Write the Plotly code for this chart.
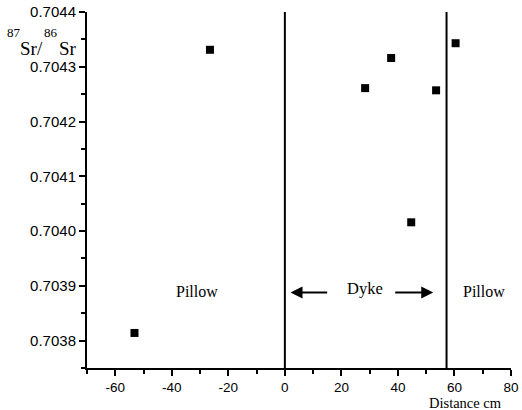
import plotly.graph_objects as go

# Data
distance_cm = [-53.2, -26.5, 28.4, 37.6, 53.5, 60.4, 44.7]
sr_ratio = [0.703814, 0.704331, 0.704261, 0.704316, 0.704257, 0.704343, 0.704016]
contacts_cm = [0, 57.2]
x_ticks = [-60, -40, -20, 0, 20, 40, 60, 80]
y_ticks = [0.7038, 0.7039, 0.7040, 0.7041, 0.7042, 0.7043, 0.7044]

Y_MIN, Y_MAX = 0.70375, 0.70440
X_MIN, X_MAX = -70, 80

L, R, T, B = 87, 11, 12, 42
W, H = 522, 410
PW, PH = W - L - R, H - T - B


def px(xp):
    return (xp - L) / PW


def py(yp):
    return (H - B - yp) / PH


fig = go.Figure()

for c in contacts_cm:
    fig.add_trace(go.Scatter(x=[c, c], y=[Y_MIN, Y_MAX + 0.00001], mode="lines",
                             line=dict(color="black", width=2), showlegend=False,
                             hoverinfo="skip", cliponaxis=False))

fig.add_trace(go.Scatter(x=distance_cm, y=sr_ratio, mode="markers",
                         marker=dict(symbol="square", size=8, color="black"),
                         showlegend=False))

serif = "Liberation Serif, Times New Roman, serif"
sans = "Liberation Sans, Arial, sans-serif"

fig.update_layout(
    width=W, height=H,
    margin=dict(l=L, r=R, t=T, b=B),
    paper_bgcolor="white", plot_bgcolor="white",
    font=dict(family=sans, size=15, color="black"),
    xaxis=dict(range=[X_MIN, X_MAX], tickvals=x_ticks, ticktext=[str(v) for v in x_ticks],
               automargin=False,
               showgrid=False, zeroline=False, showline=True, linecolor="black", linewidth=2,
               ticks="outside", ticklen=6, tickwidth=2, tickcolor="black",
               minor=dict(dtick=10, ticks="outside", ticklen=4, tickwidth=2, tickcolor="black"),
               tickfont=dict(family=sans, size=13.5)),
    yaxis=dict(range=[Y_MIN, Y_MAX], tickvals=y_ticks, ticktext=["%.4f" % v for v in y_ticks],
               automargin=False,
               showgrid=False, zeroline=False, showline=True, linecolor="black", linewidth=2,
               ticks="outside", ticklen=6, tickwidth=2, tickcolor="black",
               minor=dict(dtick=0.00005, ticks="outside", ticklen=4, tickwidth=2, tickcolor="black"),
               tickfont=dict(family=sans, size=15)),
)

label_y = 0.703888
fig.add_annotation(x=-31, y=0.70389, text="Pillow", showarrow=False,
                   font=dict(family=serif, size=16))
fig.add_annotation(x=70.5, y=0.70389, text="Pillow", showarrow=False,
                   font=dict(family=serif, size=16))
fig.add_annotation(x=28.5, y=0.703895, text="Dyke", showarrow=False,
                   font=dict(family=serif, size=16.5))
# arrows
fig.add_annotation(x=2, y=label_y, ax=15.5, ay=label_y, axref="x", ayref="y",
                   text="", showarrow=True, arrowhead=2, arrowsize=1.2, arrowwidth=2,
                   arrowcolor="black")
fig.add_annotation(x=52.5, y=label_y, ax=38.5, ay=label_y, axref="x", ayref="y",
                   text="", showarrow=True, arrowhead=2, arrowsize=1.2, arrowwidth=2,
                   arrowcolor="black")

fig.add_annotation(xref="paper", yref="paper", x=px(503), y=py(403), xanchor="right",
                   yanchor="middle", text="Distance cm", showarrow=False,
                   font=dict(family=serif, size=14.5), borderpad=0)

# y-axis label 87Sr/86Sr
for txt, xp, yp, sz in [("87", 5, 33, 13), ("Sr/", 18, 48, 19), ("86", 42, 33, 13), ("Sr", 57, 48, 19)]:
    fig.add_annotation(xref="paper", yref="paper", x=px(xp), y=py(yp), xanchor="left",
                       yanchor="middle", text=txt, showarrow=False,
                       font=dict(family=serif, size=sz))

fig.write_html("out.html", config={"displayModeBar": False},
               post_script="document.body.style.margin='0';document.body.style.overflow='hidden';")
